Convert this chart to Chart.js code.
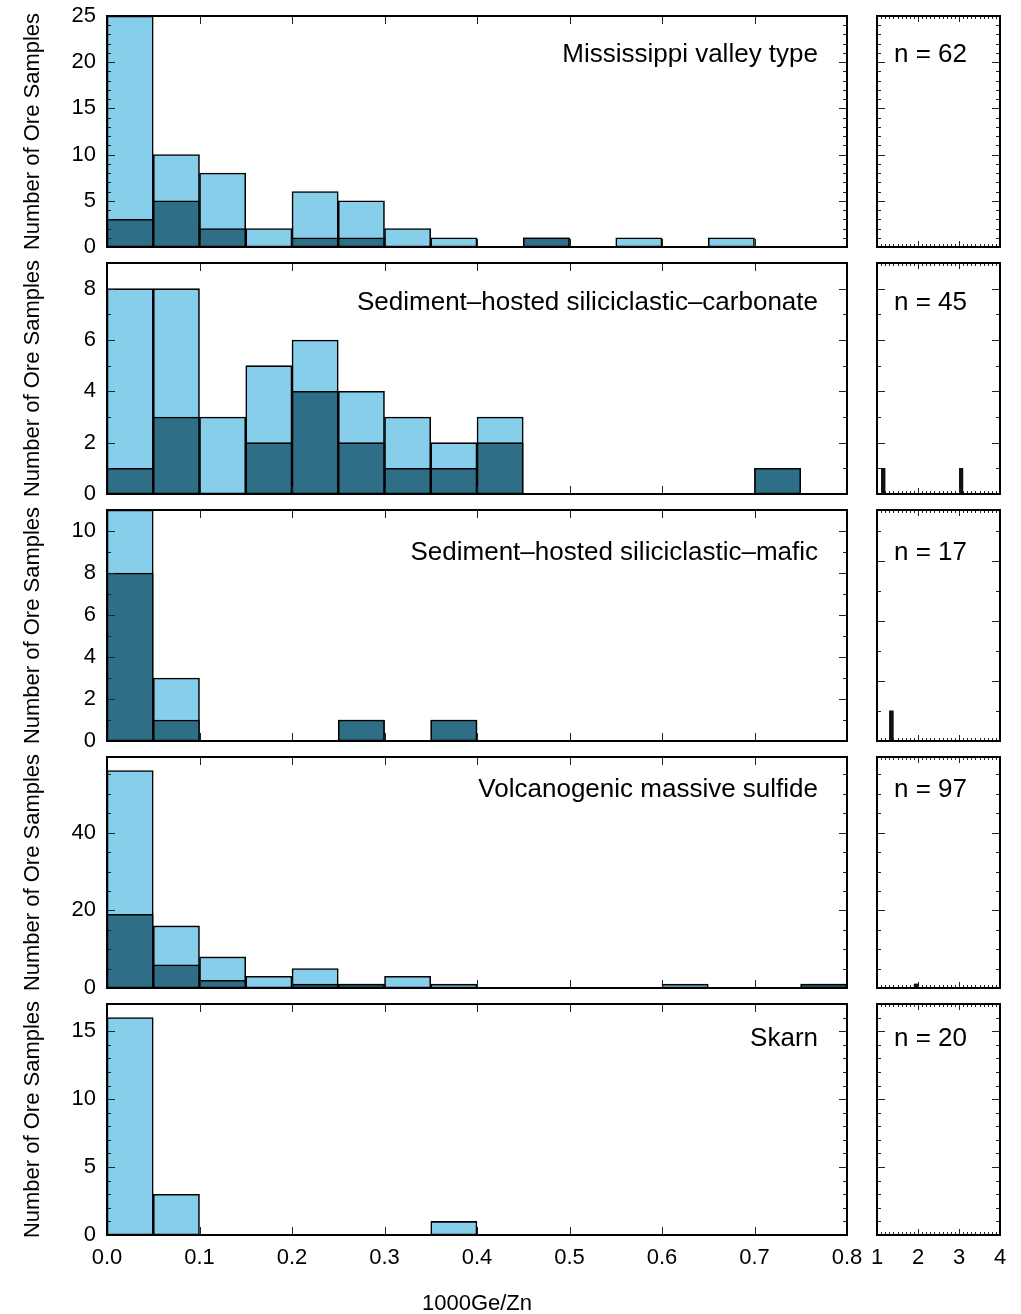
<!DOCTYPE html>
<html lang="en">
<head>
<meta charset="UTF-8">
<title>Ge/Zn in ore samples</title>
<script src="https://cdn.jsdelivr.net/npm/chart.js"></script>
<style>
  body { margin: 0; background: #fff; }
  #wrap { position: relative; width: 1021px; height: 1314px; overflow: hidden; }
  #wrap canvas { position: absolute; }
</style>
</head>
<body>
<div id="wrap"></div>
<script>
// histogram bins of 1000Ge/Zn, width 0.05
const binCenters = [0.025, 0.075, 0.125, 0.175, 0.225, 0.275, 0.325, 0.375,
                    0.425, 0.475, 0.525, 0.575, 0.625, 0.675, 0.725, 0.775];

const depositTypes = ['Mississippi valley type', 'Sediment–hosted siliciclastic–carbonate',
                      'Sediment–hosted siliciclastic–mafic', 'Volcanogenic massive sulfide', 'Skarn'];
const sampleCounts = ['n = 62', 'n = 45', 'n = 17', 'n = 97', 'n = 20'];

// light bars = all samples, dark bars = subset
const mvtTotal    = [25, 10, 8, 2, 6, 5, 2, 1, 0, 1, 0, 1, 0, 1, 0, 0];
const mvtSub      = [3, 5, 2, 0, 1, 1, 0, 0, 0, 1, 0, 0, 0, 0, 0, 0];
const carbTotal   = [8, 8, 3, 5, 6, 4, 3, 2, 3, 0, 0, 0, 0, 0, 1, 0];
const carbSub     = [1, 3, 0, 2, 4, 2, 1, 1, 2, 0, 0, 0, 0, 0, 1, 0];
const maficTotal  = [11, 3, 0, 0, 0, 1, 0, 1, 0, 0, 0, 0, 0, 0, 0, 0];
const maficSub    = [8, 1, 0, 0, 0, 1, 0, 1, 0, 0, 0, 0, 0, 0, 0, 0];
const vmsTotal    = [56, 16, 8, 3, 5, 1, 3, 1, 0, 0, 0, 0, 1, 0, 0, 1];
const vmsSub      = [19, 6, 2, 0, 1, 1, 0, 0, 0, 0, 0, 0, 0, 0, 0, 1];
const skarnTotal  = [16, 3, 0, 0, 0, 0, 0, 1, 0, 0, 0, 0, 0, 0, 0, 0];
const skarnSub    = [0, 0, 0, 0, 0, 0, 0, 0, 0, 0, 0, 0, 0, 0, 0, 0];

const totals = [mvtTotal, carbTotal, maficTotal, vmsTotal, skarnTotal];
const subs = [mvtSub, carbSub, maficSub, vmsSub, skarnSub];

// outliers above 1 (side panels)
const sideX     = [[], [1.15, 3.05], [1.35], [1.95], []];
const sideTotal = [[], [1, 1], [1], [1], []];
const sideSub   = [[], [1, 1], [1], [1], []];

const yMax   = [25, 9, 11, 59.5, 17];
const yStep  = [5, 2, 2, 20, 5];
const yMinor = [1, 1, 1, 5, 1];
const sideMax = [25, 9, 7.7, 59.5, 17];

const lightBlue = '#87ceeb';
const darkBlue = '#2f6e87';
const rowTops = [16, 263, 510, 757, 1004];
const labelDy = [39, 40, 43, 33, 35];
const plotH = 231;
const pad = 26;

Chart.defaults.font.family = '"Liberation Sans", Arial, sans-serif';
Chart.defaults.color = '#000';

function ticksAlong(min, max, step) {
    const out = [];
    const n = Math.round((max - min) / step);
    for (let i = 1; i < n + 1; i++) {
        const v = min + i * step;
        if (v < max - 1e-9) out.push(v);
    }
    return out;
}
function isMultiple(v, step) {
    const q = v / step;
    return Math.abs(q - Math.round(q)) < 1e-6;
}

// frame with inward ticks on all four sides, plus panel text
const framePlugin = {
    id: 'frame',
    afterDatasetsDraw(chart, args, o) {
        const { ctx, chartArea: a, scales: { x, y } } = chart;
        ctx.save();
        ctx.strokeStyle = '#222';
        ctx.lineWidth = 1;
        ctx.beginPath();
        ticksAlong(x.min, x.max, o.xMinor).forEach(v => {
            const px = Math.round(x.getPixelForValue(v)) + 0.5;
            const len = isMultiple(v - x.min, o.xMajor) ? o.majorLen : o.minorLen;
            ctx.moveTo(px, a.bottom); ctx.lineTo(px, a.bottom - len);
            ctx.moveTo(px, a.top); ctx.lineTo(px, a.top + len);
        });
        ticksAlong(y.min, y.max, o.yMinor).forEach(v => {
            const py = Math.round(y.getPixelForValue(v)) + 0.5;
            const len = isMultiple(v, o.yMajor) ? 8 : 4;
            ctx.moveTo(a.left, py); ctx.lineTo(a.left + len, py);
            ctx.moveTo(a.right, py); ctx.lineTo(a.right - len, py);
        });
        ctx.stroke();
        ctx.lineWidth = 2;
        ctx.strokeStyle = '#000';
        ctx.strokeRect(a.left, a.top, a.right - a.left, a.bottom - a.top);
        if (o.text) {
            ctx.font = '26px "Liberation Sans", Arial, sans-serif';
            ctx.fillStyle = '#000';
            ctx.textBaseline = 'middle';
            ctx.textAlign = o.align;
            const tx = o.align === 'right' ? a.right - 29 : a.left + 17;
            ctx.fillText(o.text, tx, a.top + o.dy);
        }
        ctx.restore();
    }
};

const wrap = document.getElementById('wrap');
function addCanvas(left, top, w, h) {
    const c = document.createElement('canvas');
    c.width = w; c.height = h;
    c.style.left = left + 'px'; c.style.top = top + 'px';
    c.style.width = w + 'px'; c.style.height = h + 'px';
    wrap.appendChild(c);
    return c;
}

const barStyle = {
    grouped: false,
    barPercentage: 1,
    categoryPercentage: 1,
    borderColor: '#000',
    borderWidth: 1.6,
    borderSkipped: false
};

for (let r = 0; r < 5; r++) {
    const last = r === 4;
    const h = last ? pad + plotH + 82 : pad + plotH + pad;
    const top = rowTops[r] - pad;

    // main histogram
    const mainCanvas = addCanvas(0, top, 873, h);
    new Chart(mainCanvas, {
        type: 'bar',
        data: {
            datasets: [
                { data: binCenters.map((c, i) => ({ x: c, y: subs[r][i] || null })), backgroundColor: darkBlue },
                { data: binCenters.map((c, i) => ({ x: c, y: totals[r][i] || null })), backgroundColor: lightBlue }
            ]
        },
        options: {
            responsive: false,
            animation: false,
            events: [],
            layout: { padding: { top: pad, bottom: last ? 0 : pad, left: 0, right: 26 } },
            datasets: { bar: barStyle },
            plugins: {
                legend: { display: false },
                tooltip: { enabled: false },
                frame: { xMinor: 0.1, xMajor: 0.1, yMinor: yMinor[r], yMajor: yStep[r],
                         majorLen: 8, minorLen: 8, text: depositTypes[r], align: 'right', dy: labelDy[r] }
            },
            scales: {
                x: {
                    type: 'linear', min: 0, max: 0.8, offset: false,
                    display: last,
                    grid: { display: false, drawTicks: false },
                    border: { display: false },
                    ticks: { stepSize: 0.1, autoSkip: false, maxRotation: 0, padding: 10,
                             font: { size: 22 }, callback: v => v.toFixed(1) },
                    title: { display: last, text: '1000Ge/Zn', font: { size: 22 }, padding: { top: 0, bottom: 0 } },
                    afterFit: last ? (s => { s.height = 82; }) : undefined
                },
                y: {
                    min: 0, max: yMax[r],
                    grid: { display: false, drawTicks: false },
                    border: { display: false },
                    ticks: { stepSize: yStep[r], includeBounds: false, padding: 11, font: { size: 22 } },
                    title: { display: true, text: 'Number of Ore Samples', font: { size: 22 }, padding: { top: 20, bottom: 0 } },
                    afterFit: s => { s.width = 107; }
                }
            }
        },
        plugins: [framePlugin]
    });

    // side panel for values between 1 and 4 (thin bars read as black)
    const sideCanvas = addCanvas(860, top, 161, h);
    new Chart(sideCanvas, {
        type: 'bar',
        data: {
            datasets: [
                { data: sideX[r].map((c, i) => ({ x: c, y: sideSub[r][i] || null })), backgroundColor: '#111' },
                { data: sideX[r].map((c, i) => ({ x: c, y: sideTotal[r][i] || null })), backgroundColor: '#111' }
            ]
        },
        options: {
            responsive: false,
            animation: false,
            events: [],
            layout: { padding: { top: pad, bottom: last ? 0 : pad, left: 17, right: 21 } },
            datasets: { bar: Object.assign({}, barStyle, { barThickness: 3.5, borderWidth: 0 }) },
            plugins: {
                legend: { display: false },
                tooltip: { enabled: false },
                frame: { xMinor: 0.1, xMajor: 1, yMinor: yMinor[r], yMajor: yStep[r],
                         majorLen: 6, minorLen: 3, text: sampleCounts[r], align: 'left', dy: labelDy[r] }
            },
            scales: {
                x: {
                    type: 'linear', min: 1, max: 4, offset: false,
                    display: last,
                    grid: { display: false, drawTicks: false },
                    border: { display: false },
                    ticks: { stepSize: 1, autoSkip: false, maxRotation: 0, padding: 10, font: { size: 22 } },
                    afterFit: last ? (s => { s.height = 82; }) : undefined
                },
                y: {
                    min: 0, max: sideMax[r],
                    display: false
                }
            }
        },
        plugins: [framePlugin]
    });
}
</script>
</body>
</html>
